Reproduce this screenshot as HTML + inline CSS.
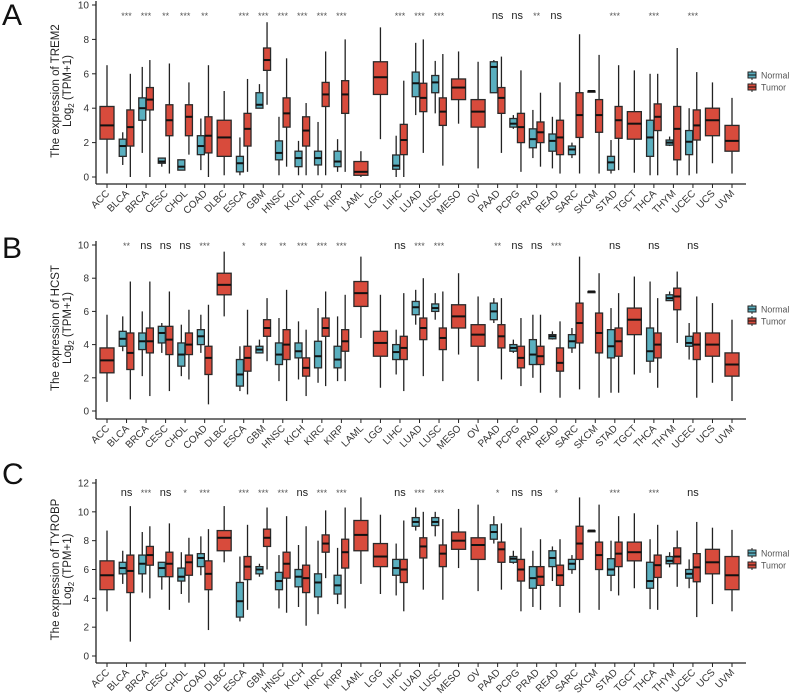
<!DOCTYPE html>
<html><head><meta charset="utf-8"><style>
html,body{margin:0;padding:0;background:#fff;}
svg{display:block;font-family:"Liberation Sans",sans-serif;}
</style></head><body>
<svg id="chart" width="789" height="697" viewBox="0 0 789 697" xmlns="http://www.w3.org/2000/svg"></svg>
<script>
const categories = ["ACC","BLCA","BRCA","CESC","CHOL","COAD","DLBC","ESCA","GBM","HNSC","KICH","KIRC","KIRP","LAML","LGG","LIHC","LUAD","LUSC","MESO","OV","PAAD","PCPG","PRAD","READ","SARC","SKCM","STAD","TGCT","THCA","THYM","UCEC","UCS","UVM"];

const normalA = [null,[.7,1.2,1.8,2.2,2.6],[1.4,3.3,4.0,4.6,6.4],[.6,.8,.9,1.1,1.1],[.4,.4,.6,1.0,1.0],[.4,1.3,1.8,2.4,3.4],null,[.1,.3,.8,1.2,2.3],[4.0,4.0,4.2,4.9,5.4],[.1,1.0,1.4,2.1,3.5],[.1,.6,1.1,1.5,2.1],[.1,.7,1.1,1.5,3.2],[.3,.6,.9,1.5,2.2],null,null,[0,.45,.66,1.28,2.4],[3.6,4.67,5.45,6.1,7.8],[3.7,4.9,5.5,5.9,6.75],null,null,[4.9,4.9,6.4,6.7,6.8],[2.8,2.9,3.1,3.4,3.6],[1.1,1.7,2.2,2.8,3.9],[.5,1.5,2.1,2.5,3.5],[1.1,1.3,1.6,1.8,2.0],[5.0,5.0,5.0,5.0,5.0],[.2,.4,.85,1.2,2.15],null,[.1,1.2,2.3,3.3,6.0],[1.8,1.85,2.0,2.15,2.35],[.1,1.3,2.05,2.7,4.0],null,null];
const tumorA = [[.2,2.2,3.0,4.1,6.5],[0,1.8,2.9,3.9,6.0],[0,3.9,4.5,5.2,6.8],[.2,2.4,3.3,4.2,6.6],[1.3,2.4,3.5,4.2,5.5],[0,1.4,2.4,3.5,6.5],[.1,1.2,2.3,3.3,5.0],[.3,1.8,2.8,3.7,5.7],[4.2,6.2,6.8,7.5,9.0],[.6,2.9,3.7,4.6,6.9],[.1,1.8,2.7,3.5,4.3],[.1,4.1,4.8,5.5,7.3],[.3,3.7,4.8,5.6,8.0],[0,.1,.3,.9,1.5],[2.2,4.8,5.8,6.7,8.7],[0,1.3,2.15,3.06,5.6],[1.4,3.8,4.6,5.45,8.0],[.66,3.0,3.8,4.6,7.15],[3.1,4.5,5.2,5.7,7.3],[.5,2.9,3.8,4.5,6.7],[1.4,3.7,4.6,5.2,7.0],[.3,2.0,2.9,3.7,6.2],[.6,2.0,2.6,3.2,4.9],[.2,1.3,2.3,3.3,5.5],[.2,2.3,3.6,4.9,8.3],[.2,2.6,3.6,4.5,7.1],[.4,2.25,3.3,4.1,6.5],[.25,2.2,3.1,3.8,6.2],[.1,2.7,3.5,4.25,6.0],[.1,1.0,2.8,4.1,7.5],[.2,2.15,3.0,3.9,6.1],[.8,2.4,3.3,4.0,5.5],[.2,1.5,2.1,3.0,4.6]];
const sigA = ["","***","***","**","***","**","","***","***","***","***","***","***","","","***","***","***","","","ns","ns","**","ns","","","***","","***","","***","",""];

const normalB = [null,[3.6,3.9,4.35,4.8,5.7],[2.1,3.7,4.2,4.7,6.0],[3.5,4.1,4.7,5.1,5.3],[2.1,2.7,3.4,4.1,5.2],[3.5,4.0,4.5,4.9,5.8],null,[1.2,1.5,2.2,3.1,3.9],[3.5,3.5,3.7,3.9,4.3],[1.8,2.8,3.4,4.1,5.6],[1.9,3.2,3.6,4.1,5.4],[1.7,2.6,3.3,4.2,6.2],[1.8,2.6,3.1,3.9,5.7],null,null,[2.2,3.1,3.55,4.0,4.9],[5.2,5.8,6.25,6.6,7.3],[5.5,6.0,6.2,6.45,7.1],null,null,[5.3,5.5,6.0,6.5,6.8],[3.5,3.6,3.8,4.0,4.3],[2.0,2.8,3.4,4.3,5.8],[4.3,4.35,4.5,4.6,4.8],[3.5,3.8,4.2,4.6,5.0],[7.2,7.2,7.2,7.2,7.2],[1.1,3.2,3.9,4.9,6.2],null,[2.3,3.0,3.6,5.0,7.8],[6.65,6.65,6.8,7.0,7.2],[3.1,3.9,4.1,4.5,5.3],null,null];
const tumorB = [[.55,2.3,3.05,3.8,5.8],[.7,2.5,3.5,4.7,7.8],[.9,3.5,4.2,5.0,7.8],[1.2,3.4,4.3,5.1,7.2],[1.9,3.4,4.0,4.7,6.1],[.4,2.2,3.2,3.9,6.4],[5.7,7.0,7.6,8.3,9.6],[1.0,2.4,3.2,3.9,6.1],[3.0,4.5,5.0,5.5,6.8],[.6,3.1,4.0,4.9,7.3],[.9,2.1,2.6,3.2,4.9],[1.5,4.5,5.0,5.6,7.2],[1.8,3.6,4.2,4.9,7.0],[4.4,6.3,7.1,7.8,9.3],[1.4,3.3,4.1,4.8,7.0],[1.2,3.1,3.8,4.5,7.1],[2.1,4.3,5.0,5.6,8.0],[1.8,3.7,4.4,5.0,7.2],[3.4,5.0,5.7,6.4,8.3],[1.8,3.9,4.6,5.2,6.9],[1.9,3.8,4.5,5.2,6.8],[1.5,2.6,3.2,3.9,5.6],[1.1,2.8,3.3,3.9,5.8],[.8,2.4,2.9,3.8,5.4],[1.3,4.1,5.3,6.5,9.3],[.8,3.5,4.7,5.9,8.3],[1.1,3.3,4.2,5.0,7.1],[2.2,4.6,5.5,6.2,8.1],[1.4,3.2,4.0,4.7,6.8],[4.1,6.1,6.9,7.4,8.4],[.8,3.1,4.0,4.7,6.9],[1.7,3.3,4.0,4.7,6.5],[.6,2.1,2.8,3.5,5.5]];
const sigB = ["","**","ns","ns","ns","***","","*","**","**","***","***","***","","","ns","***","***","","","**","ns","ns","***","","","ns","","ns","","ns","",""];

const normalC = [null,[5.0,5.7,6.1,6.5,7.3],[4.4,5.7,6.4,7.0,8.6],[4.6,5.5,6.1,6.5,6.5],[4.3,5.2,5.5,6.1,7.2],[5.6,6.2,6.8,7.1,8.3],null,[2.4,2.7,3.8,5.1,6.9],[5.5,5.7,6.0,6.2,6.4],[3.3,4.6,5.2,5.8,7.0],[3.4,4.8,5.5,6.0,7.7],[2.9,4.1,5.1,5.7,8.0],[3.6,4.3,4.9,5.6,7.5],null,null,[4.2,5.6,6.1,6.7,7.8],[8.7,9.0,9.3,9.6,10.3],[8.3,9.05,9.3,9.6,10.0],null,null,[7.8,8.1,8.6,9.1,9.7],[6.4,6.5,6.75,6.9,7.3],[3.4,4.7,5.4,6.2,7.3],[5.2,6.2,6.8,7.3,7.6],[5.7,6.0,6.4,6.7,7.0],[8.7,8.7,8.7,8.7,8.7],[4.5,5.6,6.0,6.75,8.0],null,[3.25,4.7,5.2,6.5,8.1],[6.15,6.4,6.6,6.9,7.2],[4.7,5.4,5.7,6.0,6.7],null,null];
const tumorC = [[3.1,4.6,5.6,6.6,8.7],[1.0,4.4,5.9,7.0,10.4],[4.0,6.3,7.0,7.6,9.0],[3.2,5.5,6.4,7.2,9.2],[3.7,5.6,6.5,7.0,8.2],[1.8,4.6,5.7,6.6,8.8],[6.5,7.3,8.2,8.7,10.4],[3.2,5.3,6.2,6.9,9.1],[6.0,7.6,8.2,8.8,10.3],[3.0,5.4,6.4,7.2,9.7],[2.1,4.4,5.4,6.3,9.0],[5.4,7.2,7.8,8.4,10.1],[3.3,6.1,7.2,8.1,10.3],[5.0,7.3,8.4,9.4,11.0],[4.3,6.2,6.9,7.8,9.8],[3.1,5.1,6.0,6.7,9.4],[4.6,6.8,7.6,8.2,10.0],[3.9,6.2,7.1,7.7,9.5],[6.1,7.4,8.0,8.6,10.2],[4.5,6.7,7.7,8.2,10.5],[4.6,6.5,7.4,7.9,9.2],[3.1,5.2,6.0,6.7,8.9],[3.2,4.9,5.5,6.2,8.1],[3.4,4.9,5.6,6.3,8.1],[3.0,6.7,7.8,9.0,11.0],[3.2,6.0,7.0,7.9,10.5],[4.2,6.2,7.1,7.9,9.7],[4.7,6.6,7.2,7.9,9.9],[3.2,5.45,6.3,7.0,9.1],[4.8,6.4,6.9,7.5,8.7],[2.7,5.15,6.15,7.1,9.3],[3.6,5.7,6.5,7.4,8.9],[3.1,4.6,5.6,6.9,8.75]];
const sigC = ["","ns","***","ns","*","***","","***","***","***","ns","***","***","","","ns","***","***","","","*","ns","ns","*","","","***","","***","","ns","",""];

const ticksA = [0,2,4,6,8,10];
const ticksB = [0,2,4,6,8,10];
const ticksC = [0,2,4,6,8,10,12];

const NS = "http://www.w3.org/2000/svg";
const svg = document.getElementById('chart');
function mk(tag, attrs, parent){
  const e = document.createElementNS(NS, tag);
  for (const k in attrs) e.setAttribute(k, attrs[k]);
  (parent||svg).appendChild(e);
  return e;
}
const X0 = 107, DX = (732 - 107) / 32;
function xPos(i){ return X0 + i * DX; }

function drawPanel(cfg){
  const g = mk('g', {});
  
  
  const yScale = v => cfg.y0 + (cfg.yTop - cfg.y0) * (v / cfg.vmax);
  const lt = mk('text', {x:2, y:cfg.yTop + cfg.letterDy, 'font-size':30, fill:'#111'}, g);
  
  
  lt.textContent = cfg.letter;
  const ya = mk('line', {x1:96, x2:96, y1:cfg.yTop - 4, y2:cfg.axisY, stroke:'#222', 'stroke-width':1.3}, g);
  
  
  cfg.ticks.forEach(t => {
    const y = yScale(t);
    mk('line', {x1:92, x2:96, y1:y, y2:y, stroke:'#222', 'stroke-width':1}, g);
    const tx = mk('text', {x:89, y:y + 3.5, 'font-size':10, fill:'#333', 'text-anchor':'end'}, g);
    
    
    tx.textContent = t;
  });
  const xa = mk('line', {x1:96, x2:746, y1:cfg.axisY, y2:cfg.axisY, stroke:'#222', 'stroke-width':1.3}, g);
  
  
  const midY = (cfg.yTop + cfg.y0) / 2;
  const t1 = mk('text', {x:0, y:0, 'font-size':11.5, fill:'#222', 'text-anchor':'middle', transform:`translate(59,${midY}) rotate(-90)`}, g);
  
  
  t1.textContent = 'The expression of ' + cfg.gene;
  const t2 = mk('text', {x:0, y:0, 'font-size':11.5, fill:'#222', 'text-anchor':'middle', transform:`translate(71,${midY}) rotate(-90)`}, g);
  
  
  t2.innerHTML = 'Log<tspan font-size="8" dy="3">2</tspan><tspan dy="-3"> (TPM+1)</tspan>';

  function box(s, cx, w, fill, name){
    const bg = mk('g', {}, g);
    
    
    mk('line', {x1:cx, x2:cx, y1:yScale(s[0]), y2:yScale(s[4]), stroke:'#222', 'stroke-width':1.3}, bg);
    const top = yScale(s[3]), bot = yScale(s[1]);
    mk('rect', {x:cx - w/2, y:top, width:w, height:Math.max(bot - top, 1.2), fill:fill, stroke:'#2a2a2a', 'stroke-width':1.3}, bg);
    mk('line', {x1:cx - w/2, x2:cx + w/2, y1:yScale(s[2]), y2:yScale(s[2]), stroke:'#111', 'stroke-width':2}, bg);
  }
  categories.forEach((c, i) => {
    const cx = xPos(i);
    const n = cfg.normal[i], t = cfg.tumor[i];
    if (n) {
      box(n, cx - 3.8, 7, '#5aafbf', 'normal-box-' + c.toLowerCase());
      box(t, cx + 3.8, 7, '#d84b3c', 'tumor-box-' + c.toLowerCase());
    } else {
      box(t, cx, 14, '#d84b3c', 'tumor-box-' + c.toLowerCase());
    }
    mk('line', {x1:cx, x2:cx, y1:cfg.axisY, y2:cfg.axisY + 4, stroke:'#222', 'stroke-width':1}, g);
    const lx = cx + 3, ly = cfg.axisY + 10;
    const lab = mk('text', {x:lx, y:ly, 'font-size':10, fill:'#333', 'text-anchor':'end', transform:`rotate(-45 ${lx} ${ly})`}, g);
    
    
    lab.textContent = c;
    const sg = cfg.sig[i];
    if (sg) {
      const st = mk('text', {x:cx, y:cfg.sigY, 'font-size': sg === 'ns' ? 11 : 9, fill: sg === 'ns' ? '#222' : '#555', 'text-anchor':'middle'}, g);
      
      
      st.textContent = sg;
    }
  });
  const lg = mk('g', {}, g);
  
  
  [['Normal','#5aafbf'],['Tumor','#d84b3c']].forEach((e, k) => {
    const y = cfg.legY + k * 12;
    const le = mk('g', {}, lg);
    
    
    mk('line', {x1:752, x2:752, y1:y - 5, y2:y + 5, stroke:'#222', 'stroke-width':1}, le);
    mk('rect', {x:748, y:y - 3, width:8, height:6, fill:e[1], stroke:'#222', 'stroke-width':1}, le);
    mk('line', {x1:748, x2:756, y1:y, y2:y, stroke:'#111', 'stroke-width':1}, le);
    const tt = mk('text', {x:761, y:y + 3.5, 'font-size':8.8, fill:'#555'}, le);
    tt.textContent = e[0];
  });
}

drawPanel({letter:'A', gene:'TREM2', yTop:5, y0:177, vmax:10, axisY:184, ticks:ticksA, normal:normalA, tumor:tumorA, sig:sigA, sigY:19, legY:75, letterDy:20});
drawPanel({letter:'B', gene:'HCST', yTop:245, y0:411, vmax:10, axisY:419, ticks:ticksB, normal:normalB, tumor:tumorB, sig:sigB, sigY:249, legY:309, letterDy:13});
drawPanel({letter:'C', gene:'TYROBP', yTop:483, y0:656, vmax:12, axisY:663, ticks:ticksC, normal:normalC, tumor:tumorC, sig:sigC, sigY:496, legY:553, letterDy:1});
</script>
</body></html>
